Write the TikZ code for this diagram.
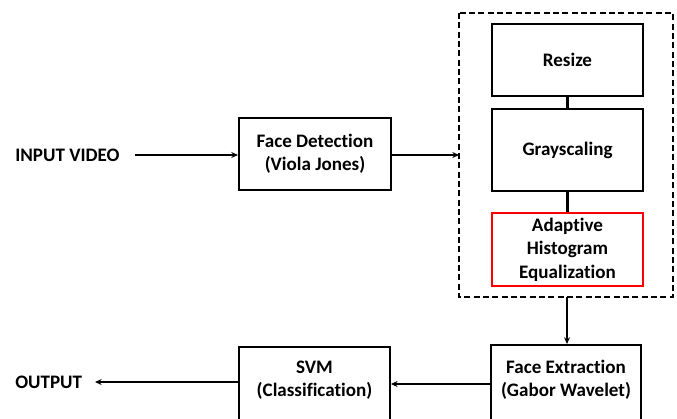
\documentclass[tikz,border=0pt]{standalone}
\usepackage{fontspec}
\setmainfont[Ligatures=NoCommon]{Carlito}
\usetikzlibrary{arrows.meta}
\begin{document}
\begin{tikzpicture}[x=0.75pt,y=-0.75pt,
  box/.style={draw=black,line width=1.6pt,minimum width=113pt,align=center,font=\bfseries\fontsize{14.3}{17.5}\selectfont,inner sep=0pt},
  lbl/.style={font=\bfseries\fontsize{14.3}{17.5}\selectfont,inner sep=0pt,anchor=west},
  conn/.style={line width=1.6pt},
  arr/.style={line width=1.2pt,-{Stealth[length=5pt,width=4.5pt]}}]
\useasboundingbox (0,0) rectangle (677,418);
\clip (0,0) rectangle (677,418);
% nodes
\node[lbl] (in) at (15,155) {INPUT VIDEO};
\coordinate (inend) at (135,155);
\node[box,minimum width=114pt,minimum height=54pt] (fd) at (315,154) {Face Detection\\(Viola Jones)};
\node[box,minimum height=54pt] (rs) at (567.5,60) {Resize};
\node[box,minimum height=61.5pt] (gs) at (567.5,150) {Grayscaling};
\node[box,draw=red,minimum height=54.5pt] (ahe) at (567.5,249.5) {Adaptive\\Histogram\\Equalization};
\draw[line width=1.3pt,dash pattern=on 4.5pt off 2.5pt] (459,13) rectangle (673,297);
\coordinate (dl) at (459,155);
\coordinate (db) at (567,297);
\node[box,minimum height=75pt] (fe) at (566,395) {};
\node[font=\bfseries\fontsize{14.3}{17.5}\selectfont,align=center,inner sep=0pt] (fet) at (566,380) {Face Extraction\\(Gabor Wavelet)};
\node[box,minimum height=75pt] (svm) at (314.5,397) {};
\node[font=\bfseries\fontsize{14.3}{17.5}\selectfont,align=center,inner sep=0pt] (svmt) at (314.5,380) {SVM\\(Classification)};
\node[lbl] (out) at (15,382) {OUTPUT};
\coordinate (outend) at (95,382);
% connectors
\draw[arr] (inend) -- (fd.west |- inend);
\draw[arr] (fd.east |- dl) -- (dl);
\draw[conn] (rs.south) -- (gs.north);
\draw[conn] (gs.south) -- (ahe.north);
\draw[arr] (db) -- (db |- fe.north);
\draw[arr] (fe.west |- 0,384) -- (svm.east |- 0,384);
\draw[arr] (svm.west |- 0,382) -- (outend);
\end{tikzpicture}
\end{document}
